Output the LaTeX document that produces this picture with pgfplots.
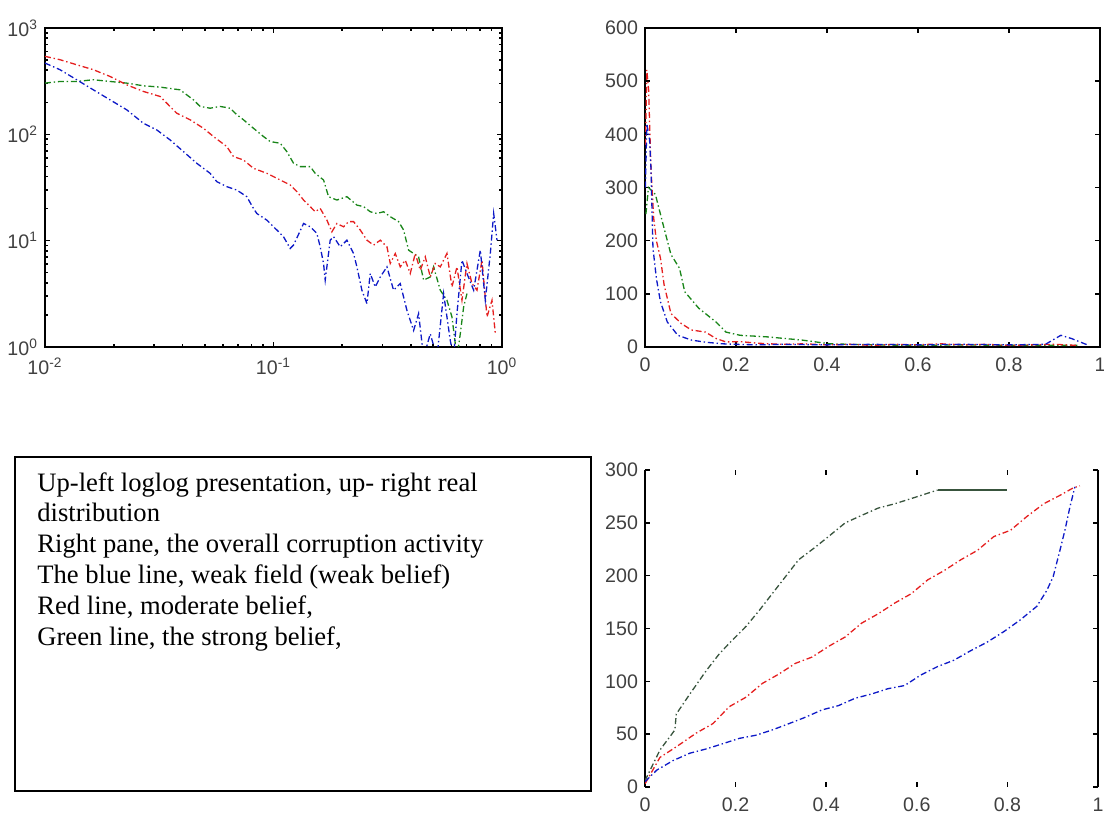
\documentclass[border=0pt]{standalone}
\usepackage{pgfplots}
\pgfplotsset{compat=1.18}
\usepackage{fontspec}
\setmainfont{Liberation Serif}
\newfontfamily\ticksf{Liberation Sans}

\definecolor{mblue}{rgb}{0.05,0.1,0.78}
\definecolor{mred}{rgb}{0.9,0.12,0.12}
\definecolor{mgreen}{rgb}{0.1,0.52,0.1}
\definecolor{mdark}{rgb}{0.22,0.33,0.24}

\pgfplotsset{
  mstyle/.style={
    scale only axis,
    anchor=south west,
    tick align=inside,
    major tick length=2.5pt,
    minor tick length=1.5pt,
    axis line style={line width=0.9pt},
    every tick/.style={black,line width=0.8pt},
    tick label style={font=\ticksf\fontsize{9.8}{11}\selectfont, text=black!75},
    xticklabel style={yshift=-2pt},
  },
  dd/.style={line width=0.65pt, dash pattern=on 3pt off 1.4pt on 0.7pt off 1.4pt},
}

\begin{document}
\begin{tikzpicture}
\useasboundingbox (0,0) rectangle (552pt,406.5pt);

% up-left: loglog
\begin{axis}[mstyle,
  at={(22.5pt,233pt)}, width=228.5pt, height=159.5pt,
  xmode=log, ymode=log,
  xmin=0.01, xmax=1, ymin=1, ymax=1000,
  xtick={0.01,0.1,1},
  xticklabels={10\textsuperscript{-2},10\textsuperscript{-1},10\textsuperscript{0}},
  ytick={1,10,100,1000},
  yticklabels={10\textsuperscript{0},10\textsuperscript{1},10\textsuperscript{2},10\textsuperscript{3}},
  minor xtick={0.02,0.03,0.04,0.05,0.06,0.07,0.08,0.09,0.2,0.3,0.4,0.5,0.6,0.7,0.8,0.9},
  minor ytick={2,3,4,5,6,7,8,9,20,30,40,50,60,70,80,90,200,300,400,500,600,700,800,900},
]
\addplot[mgreen,dd] coordinates {
(0.0100,303) (0.01163,314) (0.01376,314) (0.01628,326) (0.01926,314) (0.02279,303)
(0.02696,286) (0.03189,278) (0.03901,262) (0.04462,211) (0.04773,183) (0.05280,176)
(0.05840,183) (0.06460,176) (0.06909,153) (0.07389,137) (0.08173,114) (0.09041,95.3)
(0.09670,85.5) (0.1070,82.4) (0.1144,68.8) (0.1224,53.4) (0.1309,49.7) (0.1448,49.7)
(0.1522,43.0) (0.1656,37.2) (0.1742,25.9) (0.1894,24.1) (0.2096,25.9) (0.2317,21.6)
(0.2479,20.9) (0.2651,18.7) (0.2836,18.0) (0.3033,18.7) (0.3244,16.8) (0.3527,15.1)
(0.3710,12.6) (0.3902,8.14) (0.4104,7.57) (0.4315,7.05) (0.4539,4.25) (0.4854,4.56)
(0.5020,5.67) (0.5370,3.42) (0.5743,2.75) (0.6040,1.92) (0.6352,0.8) (0.6569,1.33)
(0.6794,2.38) (0.7026,3.18)
};
\addplot[mred,dd] coordinates {
(0.0100,541) (0.01163,503) (0.01376,451) (0.01628,405) (0.01926,350) (0.02279,292)
(0.02696,253) (0.03189,227) (0.03772,158) (0.04315,137) (0.04936,114) (0.05461,95.3)
(0.06246,76.7) (0.06681,61.7) (0.07389,57.4) (0.08173,47.9) (0.09350,43.0) (0.1070,37.2)
(0.1183,33.4) (0.1266,28.9) (0.1354,24.1) (0.1448,20.9) (0.1522,18.7) (0.1601,20.1)
(0.1713,15.6) (0.1801,12.1) (0.1894,14.5) (0.2026,13.5) (0.2131,15.1) (0.2241,15.1)
(0.2397,12.6) (0.2564,10.1) (0.2742,9.08) (0.2933,10.1) (0.3137,8.75) (0.3244,6.10)
(0.3411,7.57) (0.3587,5.67) (0.3773,6.55) (0.3968,4.91) (0.4173,7.57) (0.4388,5.28)
(0.4615,7.05) (0.4854,4.56) (0.5105,6.10) (0.5370,5.67) (0.5743,7.57) (0.6040,3.67)
(0.6352,5.67) (0.6680,2.75) (0.7026,6.10) (0.7390,3.95) (0.7772,3.42) (0.8174,6.55)
(0.8597,1.92) (0.9041,2.75) (0.9350,1.33)
};
\addplot[mblue,dd] coordinates {
(0.0100,468) (0.01163,405) (0.01376,326) (0.01628,262) (0.01926,211) (0.02279,170)
(0.02696,127) (0.03084,110) (0.03527,88.6) (0.04035,68.8) (0.04615,53.4) (0.05280,43.0)
(0.05647,35.9) (0.06246,32.2) (0.06909,29.9) (0.07642,25.9) (0.08173,20.1) (0.08453,18.0)
(0.09350,15.6) (0.1034,12.6) (0.1106,10.9) (0.1183,8.44) (0.1224,9.08) (0.1354,14.5)
(0.1448,13.5) (0.1548,11.7) (0.1601,8.75) (0.1656,6.10) (0.1684,4.25) (0.1771,10.1)
(0.1832,10.9) (0.1959,8.75) (0.2096,10.1) (0.2241,7.57) (0.2317,5.67) (0.2437,3.42)
(0.2564,2.56) (0.2651,4.91) (0.2788,3.67) (0.2933,4.56) (0.3137,5.67) (0.3354,3.42)
(0.3587,3.95) (0.3837,2.21) (0.4104,1.43) (0.4315,2.06) (0.4539,0.8) (0.4854,1.33)
(0.5192,0.8) (0.5553,3.18) (0.5939,1.15) (0.6142,0.8) (0.6352,2.06) (0.6680,6.55)
(0.7026,4.91) (0.7515,3.42) (0.8037,8.14) (0.8453,2.75) (0.8890,7.57) (0.9194,18.0)
(0.9508,10.1)
};
\end{axis}

% up-right: real distribution
\begin{axis}[mstyle,
  at={(322.5pt,233pt)}, width=227.5pt, height=159.5pt,
  xmin=0, xmax=1, ymin=0, ymax=600,
  xtick={0,0.2,0.4,0.6,0.8,1}, xticklabels={0,0.2,0.4,0.6,0.8,1},
  ytick={0,100,200,300,400,500,600}, yticklabels={0,100,200,300,400,500,600},
]
\addplot[mgreen,dd] coordinates {
(0.002,250) (0.0076,300) (0.0228,287) (0.0303,262) (0.0417,224) (0.057,174) (0.0759,148)
(0.0873,104) (0.118,73) (0.156,47) (0.178,28) (0.209,22) (0.269,19) (0.345,13) (0.406,6)
(0.5,4) (0.6,3) (0.7,4) (0.8,3) (0.9,3) (0.95,3)
};
\addplot[mred,dd] coordinates {
(0.001,380) (0.004,521) (0.008,483) (0.013,338) (0.019,243) (0.025,200) (0.034,167)
(0.042,117) (0.057,63) (0.080,44) (0.102,32) (0.133,28) (0.156,16) (0.178,9.5) (0.21,10)
(0.25,7) (0.3,5) (0.35,6) (0.4,4) (0.45,5) (0.5,3) (0.55,5) (0.6,4) (0.65,6) (0.7,4)
(0.75,5) (0.8,3) (0.85,4) (0.9,5) (0.95,3)
};
\addplot[mblue,dd] coordinates {
(0.001,300) (0.004,420) (0.010,390) (0.013,338) (0.0175,186) (0.025,129) (0.034,85)
(0.049,47) (0.072,22) (0.102,13) (0.133,9) (0.17,6) (0.2,5) (0.25,4) (0.3,5) (0.4,4)
(0.5,5) (0.6,4) (0.7,5) (0.8,4) (0.88,5) (0.914,22) (0.937,16) (0.975,3)
};
\end{axis}

% bottom-right: overall activity
\begin{axis}[mstyle,
  at={(322.5pt,13pt)}, width=226.5pt, height=158.5pt,
  separate axis lines,
  x axis line style={draw=none},
  xmin=0, xmax=1, ymin=0, ymax=300,
  xtick={0,0.2,0.4,0.6,0.8,1}, xticklabels={0,0.2,0.4,0.6,0.8,1},
  ytick={0,50,100,150,200,250,300}, yticklabels={0,50,100,150,200,250,300},
]
\addplot[mdark,dd] coordinates {
(0,6) (0.033,35) (0.066,54) (0.069,69) (0.099,88) (0.135,110) (0.164,126) (0.186,136)
(0.223,152) (0.252,167) (0.281,183) (0.310,199) (0.339,215) (0.376,227) (0.405,237)
(0.442,250) (0.478,257) (0.515,264) (0.551,268) (0.588,273) (0.624,278) (0.646,281)
};
\addplot[mdark,line width=0.75pt] coordinates {(0.646,281) (0.70,281) (0.75,281) (0.80,281)};
\addplot[mred,dd] coordinates {
(0,3) (0.033,28) (0.069,38) (0.113,51) (0.150,60) (0.186,76) (0.223,85) (0.259,98)
(0.296,107) (0.332,117) (0.369,123) (0.405,133) (0.442,142) (0.478,155) (0.515,164)
(0.551,174) (0.588,183) (0.624,196) (0.661,205) (0.697,215) (0.734,224) (0.770,237)
(0.807,243) (0.843,256) (0.880,268) (0.916,276) (0.945,283) (0.96,285)
};
\addplot[mblue,dd] coordinates {
(0,5) (0.026,16) (0.062,25) (0.099,32) (0.135,36) (0.172,41) (0.208,46) (0.245,49)
(0.281,54) (0.318,60) (0.354,66) (0.391,73) (0.427,77) (0.464,84) (0.500,88) (0.536,93)
(0.573,96) (0.609,106) (0.646,114) (0.682,120) (0.719,129) (0.755,137) (0.792,147)
(0.828,158) (0.865,171) (0.887,186) (0.901,199) (0.916,224) (0.927,243) (0.938,265)
(0.949,284)
};
\end{axis}

% text pane
\draw[line width=1pt] (7.5pt,11pt) rectangle (295.5pt,178pt);
\node[anchor=north west, inner sep=0pt, align=left,
      font=\fontsize{13.3}{15.4}\selectfont] at (18.5pt,170.5pt)
  {Up-left loglog presentation, up- right real\\
   distribution\\
   Right pane, the overall corruption activity\\
   The blue line, weak field (weak belief)\\
   Red line, moderate belief,\\
   Green line, the strong belief,};
\end{tikzpicture}
\end{document}
